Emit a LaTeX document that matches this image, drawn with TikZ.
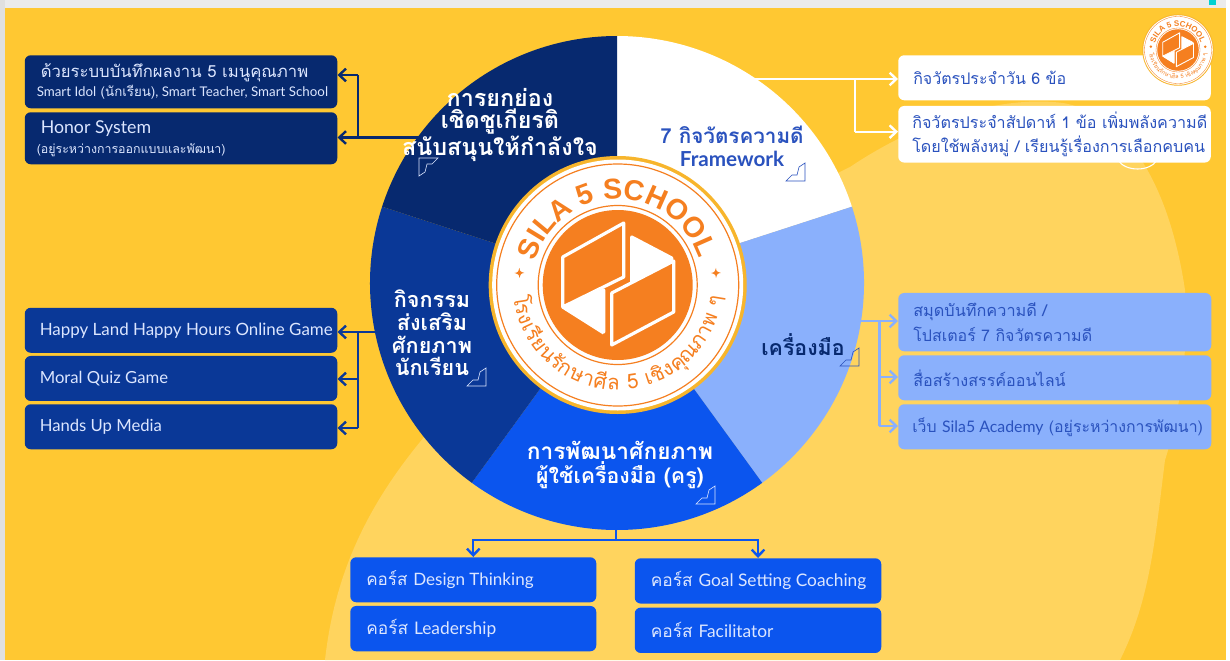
\documentclass[tikz,border=0pt]{standalone}
\usepackage{fontspec}
\usetikzlibrary{arrows.meta}
\setmainfont[Script=Thai]{Loma}
\newfontfamily\lf{Lato}
\newfontfamily\badgeLat{Liberation Sans}
\newcommand\lt[1]{{\lf #1}}
\newcommand\fs[1]{\fontsize{#1}{#1}\selectfont}
\definecolor{bgY}{HTML}{FFC832}
\definecolor{blobY}{HTML}{FFD45E}
\definecolor{navyA}{HTML}{07296F}
\definecolor{blueB}{HTML}{0A3897}
\definecolor{brightC}{HTML}{0B55EE}
\definecolor{lightD}{HTML}{8AB0FC}
\definecolor{inkE}{HTML}{2A52BE}
\definecolor{paleF}{HTML}{DCE6FF}
\definecolor{orangeG}{HTML}{F57F20}
\definecolor{ringH}{HTML}{F7B52C}
\definecolor{tealI}{HTML}{00D2D2}
\tikzset{
  boxbg/.style={rounded corners=4.5pt,inner sep=0pt,anchor=north west,draw=none},
  boxtxt/.style={anchor=west,align=left,inner sep=0pt},
  link/.style={line width=1.8pt,-{Straight Barb[length=5pt,width=9.5pt,line width=1.8pt]}},
  bus/.style={line width=1.8pt},
  wlabel/.style={align=center,inner sep=0pt},
  stairs/.style={line width=.45pt},
}
\newcommand\bx[9]{%
  \pgfmathsetlengthmacro\bxw{(#4-#2)*.75pt}%
  \pgfmathsetlengthmacro\bxh{(#5-#3)*.75pt}%
  \node[boxbg,fill=#6,minimum width=\bxw,minimum height=\bxh] (#1) at (#2,#3) {};
  \node[boxtxt,text=#7,xshift=#8*.75pt] (#1t) at (#1.west) {#9};
}
\newcommand\arctext[6]{%
  \gdef\arcsum{0}%
  \foreach \cc/\ww in {#2}{\pgfmathsetmacro\tmpa{\arcsum+\ww}\xdef\arcsum{\tmpa}}%
  \gdef\arcpos{0}%
  \foreach \cc/\ww in {#2}{%
    \pgfmathsetmacro\tmpm{#3+(#4-#3)*(\arcpos+\ww/2)/\arcsum}%
    \pgfmathsetmacro\tmpr{\tmpm+#6}%
    \node[anchor=base,inner sep=0pt,text=orangeG,rotate=\tmpr] at (\tmpm:#5) {#1\cc};
    \pgfmathsetmacro\tmpa{\arcpos+\ww}\xdef\arcpos{\tmpa}%
  }%
}
\newcommand\fourstar[1]{\fill[orangeG] (#1) ++(0,5) .. controls +(.5,-3.5) .. ++(5,-5) .. controls +(-3.5,-.5) .. ++(-5,-5) .. controls +(-.5,3.5) .. ++(-5,5) .. controls +(3.5,.5) .. cycle;}
\newcommand\badge[2]{%
  \begin{scope}[shift={(#1)},scale=#2,transform shape,y=.75pt]
    \fill[ringH] (0,0) circle (129);
    \fill[white] (0,0) circle (125.5);
    \draw[orangeG,line width=#2*.9pt] (0,0) circle (121);
    \draw[orangeG,line width=#2*.9pt] (0,0) circle (79.5);
    \fill[orangeG] (0,0) circle (75);
    % hexagon mark
    \begin{scope}[line join=round,line width=#2*2.4pt,draw=white]
      \filldraw[fill=white] (14,48) -- (54,27) -- (54,-27) -- (14,-5) -- cycle;
      \filldraw[fill=white] (-53,-23) -- (-14,-5) -- (-14,-47) -- cycle;
      \filldraw[fill=orangeG] (-55,28) -- (6,62) -- (6,8) -- (-55,-22) -- cycle;
      \filldraw[fill=orangeG] (-6,-8) -- (56,24) -- (56,-27) -- (-6,-60) -- cycle;
      \draw (-55,-22) -- (-14,-48);
    \end{scope}
    \arctext{\badgeLat\bfseries\fontsize{21.5}{22}\selectfont}{S/.667,I/.278,L/.611,A/.722,~/.278,5/.556,~/.278,S/.667,C/.722,H/.722,O/.778,O/.778,L/.611}{164}{18}{86}{-90}
    \arctext{\fontsize{15.5}{16}\selectfont}{โ/.32,ร/.45,ง/.5,เ/.3,รี/.45,ย/.58,น/.6,รั/.45,ก/.55,ษ/.6,า/.5,ศี/.6,ล/.58,~/.3,5/.55,~/.3,เ/.3,ชิ/.55,ง/.5,คุ/.58,ณ/.75,ภ/.58,า/.5,พ/.65,~/.3,ๆ/.5}{187}{354}{105}{90}
    \fourstar{173:99}
    \fourstar{7:99}
  \end{scope}
}
\newcommand\stairmark[4]{%
  \begin{scope}[shift={(#1,#2)},xscale=#3,yscale=#3]
    \draw[#4,stairs] (0,0) -- (19,0) -- (19,-18) -- (13,-14) -- (11,-6) -- (6,-6) -- cycle;
  \end{scope}
}
\begin{document}
\begin{tikzpicture}[x=.75pt,y=-.75pt]
\useasboundingbox (0,0) rectangle (1230,660);
\fill[white] (0,0) rectangle (1230,660);
\fill[black!8] (0,0) rectangle (1226,8);
\fill[black!12] (0,0) rectangle (5,660);
\fill[bgY] (5,8) rectangle (1226,660);
\fill[blobY] (325,660) .. controls (335,570) and (370,500) .. (430,430) -- (620,280)
  -- (850,167) .. controls (920,120) and (1000,95) .. (1063,103)
  .. controls (1130,115) and (1170,190) .. (1185,290)
  .. controls (1190,360) and (1175,430) .. (1165,460)
  .. controls (1155,540) and (1150,600) .. (1120,660) -- cycle;
\fill[tealI] (1209,0) rectangle (1216,5);
\draw[white,line width=.8pt] (1118,160) .. controls (1125,172) and (1150,172) .. (1157,160);

% boxes
\bx{hA}{24.5}{55}{337}{108}{navyA}{paleF}{12}{\hspace*{3pt}\fs{12.5}ด้วยระบบบันทึกผลงาน 5 เมนูคุณภาพ\\[2pt]\fs{10}\lt{Smart Idol} (นักเรียน)\lt{, Smart Teacher, Smart School}}
\bx{hB}{24.5}{112}{337}{164}{navyA}{paleF}{12}{\hspace*{3pt}\fs{13.3}\lt{Honor System}\\[3pt]\fs{9.3}(อยู่ระหว่างการออกแบบและพัฒนา)}
\bx{aA}{24.5}{307.5}{337}{352.5}{blueB}{paleF}{15}{\fs{12.7}\lt{Happy Land Happy Hours Online Game}}
\bx{aB}{24.5}{355.7}{337}{400.7}{blueB}{paleF}{15}{\fs{12.5}\lt{Moral Quiz Game}}
\bx{aC}{24.5}{404}{337}{449}{blueB}{paleF}{15}{\fs{12.5}\lt{Hands Up Media}}
\bx{fA}{898}{55}{1210.5}{100}{white}{inkE}{15}{\fs{12}กิจวัตรประจำวัน 6 ข้อ}
\bx{fB}{898}{105.7}{1210.5}{162.3}{white}{inkE}{14}{\fs{12.1}กิจวัตรประจำสัปดาห์ 1 ข้อ เพิ่มพลังความดี\\[4pt]\fs{12.1}โดยใช้พลังหมู่ / เรียนรู้เรื่องการเลือกคบคน}
\bx{tA}{898}{292.7}{1211}{351}{lightD}{inkE}{15}{\fs{12.2}สมุดบันทึกความดี /\\[4pt]\fs{12}โปสเตอร์ 7 กิจวัตรความดี}
\bx{tB}{898}{355}{1211}{400}{lightD}{inkE}{15}{\fs{12.1}สื่อสร้างสรรค์ออนไลน์}
\bx{tC}{898}{404}{1211}{449}{lightD}{inkE}{14}{\fs{11.9}เว็บ \lt{Sila5 Academy} (อยู่ระหว่างการพัฒนา)}
\bx{cA}{350}{557}{596}{602}{brightC}{paleF}{16}{\fs{12.8}คอร์ส \lt{Design Thinking}}
\bx{cB}{350}{605.7}{596}{651}{brightC}{paleF}{16}{\fs{13}คอร์ส \lt{Leadership}}
\bx{cC}{634.5}{558}{881}{603.3}{brightC}{paleF}{16}{\fs{13}คอร์ส \lt{Goal Setting Coaching}}
\bx{cD}{634.5}{607.3}{881}{652.7}{brightC}{paleF}{16}{\fs{13}คอร์ส \lt{Facilitator}}

% connector junctions
\coordinate (hj0) at (420,137.5);
\coordinate (hj1) at (358,137.5);
\coordinate (hj2) at (358,75);
\coordinate (aj0) at (420,332);
\coordinate (aj1) at (358,332);
\coordinate (aj2) at (358,379);
\coordinate (aj3) at (358,428);
\coordinate (fj0) at (750,79);
\coordinate (fj1) at (855,79);
\coordinate (fj2) at (855,131.7);
\coordinate (tj0) at (800,321);
\coordinate (tj1) at (879.3,321);
\coordinate (tj2) at (879.3,377);
\coordinate (tj3) at (879.3,426);
\coordinate (cj0) at (616,490);
\coordinate (cj1) at (616,540);

\draw[link,draw=navyA] (hj0) -- (hB.east |- hj0);
\draw[bus,draw=navyA] (hj1) -- (hj2);
\draw[link,draw=navyA] (hj2) -- (hA.east |- hj2);
\draw[link,draw=blueB] (aj0) -- (aA.east |- aj0);
\draw[bus,draw=blueB] (aj1) -- (aj3);
\draw[link,draw=blueB] (aj2) -- (aB.east |- aj2);
\draw[link,draw=blueB] (aj3) -- (aC.east |- aj3);
\draw[link,draw=white] (fj0) -- (fA.west |- fj0);
\draw[bus,draw=white] (fj1) -- (fj2);
\draw[link,draw=white] (fj2) -- (fB.west |- fj2);
\draw[link,draw=lightD] (tj0) -- (tA.west |- tj0);
\draw[bus,draw=lightD] (tj1) -- (tj3);
\draw[link,draw=lightD] (tj2) -- (tB.west |- tj2);
\draw[link,draw=lightD] (tj3) -- (tC.west |- tj3);
\draw[bus,draw=brightC] (cj0) -- (cj1);
\draw[link,draw=brightC] (cj1) -| (cA.north);
\draw[link,draw=brightC] (cj1) -| (cC.north);

% wheel
\begin{scope}[shift={(617,283)},y=.75pt]
  \fill[white]   (0,0) -- (90:247) arc (90:18:247) -- cycle;
  \fill[lightD]  (0,0) -- (18:247) arc (18:-54:247) -- cycle;
  \fill[brightC] (0,0) -- (-54:247) arc (-54:-126:247) -- cycle;
  \fill[blueB]   (0,0) -- (-126:247) arc (-126:-198:247) -- cycle;
  \fill[navyA]   (0,0) -- (162:247) arc (162:90:247) -- cycle;
\end{scope}

\node[wlabel,text=white,font=\bfseries\fontsize{17.5}{16.5}\selectfont] (lH) at (500,125) {การยกย่อง\\เชิดชูเกียรติ\\สนับสนุนให้กำลังใจ};
\node[wlabel,text=inkE,font=\bfseries\fontsize{15.5}{17}\selectfont] (lF) at (732,146) {7 กิจวัตรความดี\\\lt{Framework}};
\node[wlabel,text=navyA,font=\bfseries\fontsize{16}{17}\selectfont] (lT) at (803,345) {เครื่องมือ};
\node[wlabel,text=white,font=\bfseries\fontsize{16.2}{17}\selectfont] (lA) at (432,333) {กิจกรรม\\ส่งเสริม\\ศักยภาพ\\นักเรียน};
\node[wlabel,text=white,font=\bfseries\fontsize{17}{16}\selectfont] (lC) at (620,465) {การพัฒนาศักยภาพ\\\fontsize{16}{16}\selectfont ผู้ใช้เครื่องมือ (ครู)};

\stairmark{786}{181}{1}{inkE}
\stairmark{840}{366}{1}{inkE}
\stairmark{467}{386}{1}{paleF}
\stairmark{696}{504}{1}{paleF}
\begin{scope}[shift={(438,158)},xscale=-1,yscale=-1]
  \draw[paleF,stairs] (0,0) -- (19,0) -- (19,-18) -- (13,-14) -- (11,-6) -- (6,-6) -- cycle;
\end{scope}

\badge{617.7,285}{1}
\badge{1178,50}{.277}
\end{tikzpicture}
\end{document}
